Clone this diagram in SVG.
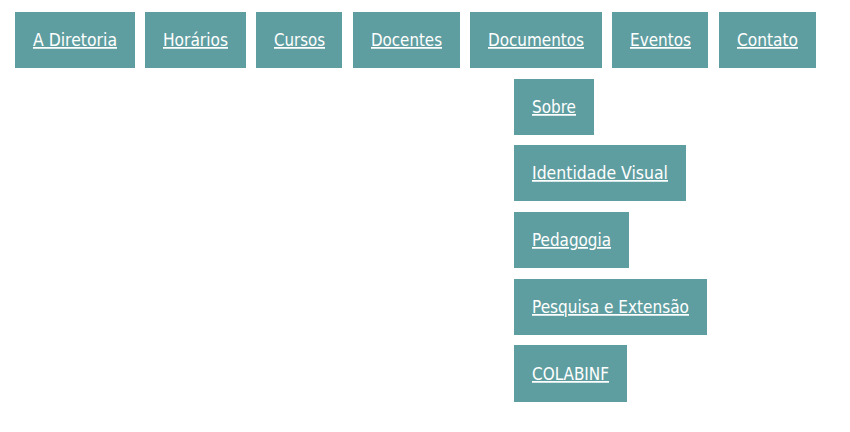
<svg xmlns="http://www.w3.org/2000/svg" width="850" height="432" viewBox="0 0 850 432">
<style>
.b{fill:#5f9ea0}
.t{fill:#ffffff;font-family:"DejaVu Sans","Liberation Sans",sans-serif;font-size:17.5px;text-decoration:underline}
</style>
<rect width="850" height="432" fill="#ffffff"/>
<g id="menu">
<g id="n-diretoria"><rect class="b" x="15" y="12" width="120" height="56"/><text class="t" x="33" y="46" textLength="84" lengthAdjust="spacingAndGlyphs">A Diretoria</text></g>
<g id="n-horarios"><rect class="b" x="145" y="12" width="101" height="56"/><text class="t" x="163" y="46" textLength="65" lengthAdjust="spacingAndGlyphs">Horários</text></g>
<g id="n-cursos"><rect class="b" x="256" y="12" width="86" height="56"/><text class="t" x="274" y="46" textLength="51" lengthAdjust="spacingAndGlyphs">Cursos</text></g>
<g id="n-docentes"><rect class="b" x="353" y="12" width="107" height="56"/><text class="t" x="371" y="46" textLength="71" lengthAdjust="spacingAndGlyphs">Docentes</text></g>
<g id="n-documentos"><rect class="b" x="470" y="12" width="132" height="56"/><text class="t" x="488" y="46" textLength="96" lengthAdjust="spacingAndGlyphs">Documentos</text></g>
<g id="n-eventos"><rect class="b" x="612" y="12" width="96" height="56"/><text class="t" x="630" y="46" textLength="61" lengthAdjust="spacingAndGlyphs">Eventos</text></g>
<g id="n-contato"><rect class="b" x="719" y="12" width="97" height="56"/><text class="t" x="737" y="46" textLength="61" lengthAdjust="spacingAndGlyphs">Contato</text></g>
</g>
<g id="submenu">
<g id="n-sobre"><rect class="b" x="514" y="79" width="80" height="56"/><text class="t" x="532" y="113" textLength="44" lengthAdjust="spacingAndGlyphs">Sobre</text></g>
<g id="n-identidade"><rect class="b" x="514" y="145" width="172" height="56"/><text class="t" x="532" y="179" textLength="136" lengthAdjust="spacingAndGlyphs">Identidade Visual</text></g>
<g id="n-pedagogia"><rect class="b" x="514" y="212" width="115" height="56"/><text class="t" x="532" y="246" textLength="79" lengthAdjust="spacingAndGlyphs">Pedagogia</text></g>
<g id="n-pesquisa"><rect class="b" x="514" y="279" width="193" height="56"/><text class="t" x="532" y="313" textLength="157" lengthAdjust="spacingAndGlyphs">Pesquisa e Extensão</text></g>
<g id="n-colabinf"><rect class="b" x="514" y="345" width="113" height="57"/><text class="t" x="532" y="380" textLength="77" lengthAdjust="spacingAndGlyphs">COLABINF</text></g>
</g>
<g id="connectors"></g>
</svg>
